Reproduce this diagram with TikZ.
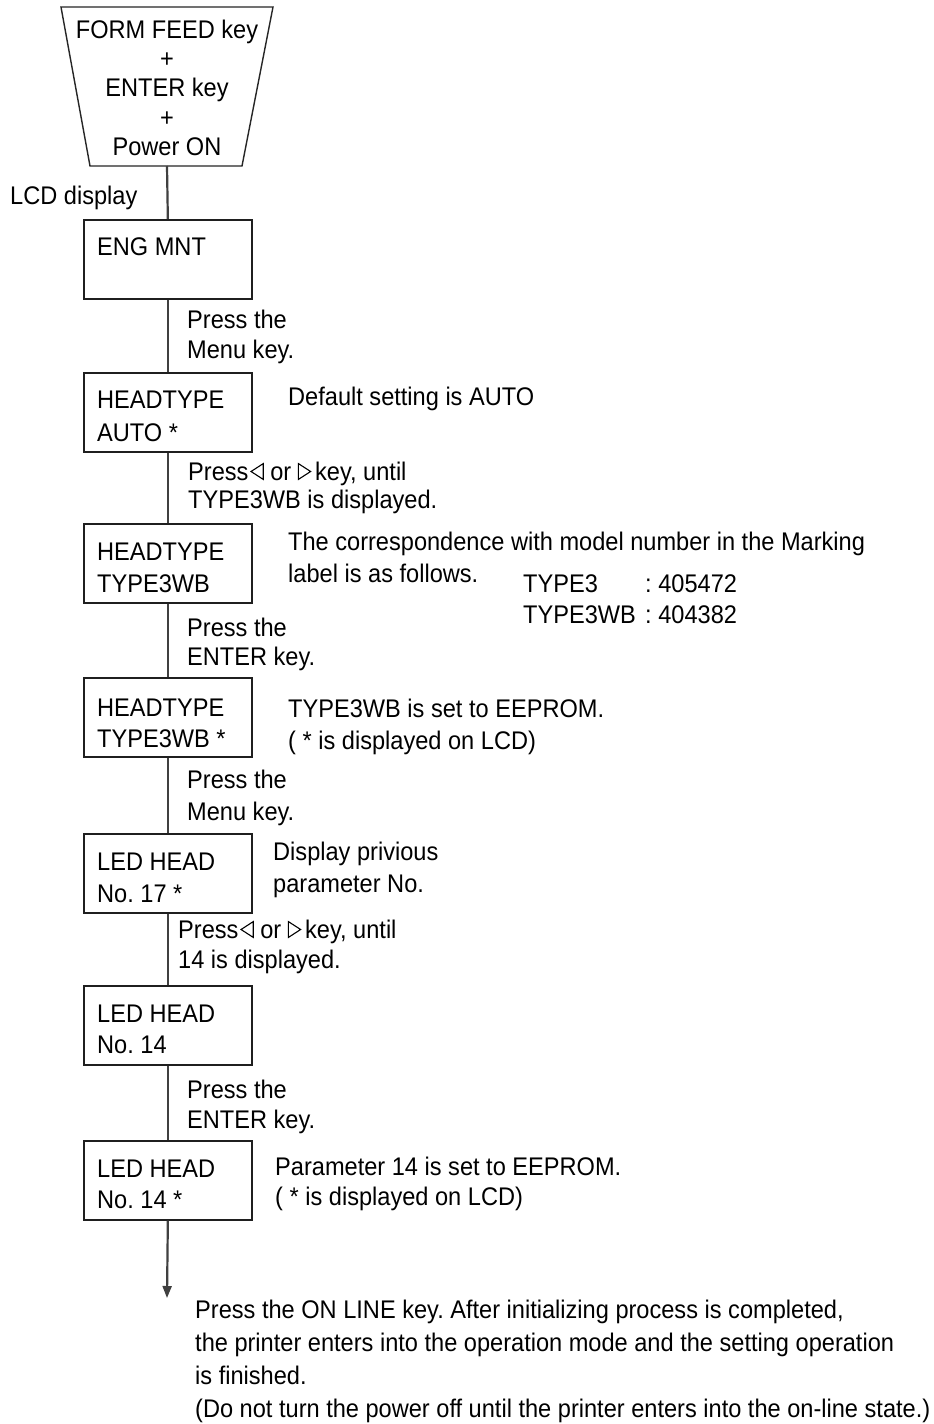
\documentclass[tikz,border=0pt]{standalone}
\usepackage{fontspec}
\setmainfont[FakeStretch=0.925]{Liberation Sans}
\usetikzlibrary{arrows.meta}
\frenchspacing
\newcommand\fsz[1]{\fontsize{25.5}{#1}\selectfont\frenchspacing}
\newcommand\trileft{\tikz[baseline=0pt,x=1pt,y=1pt]\draw[line width=1.1pt] (13,0.6)--(0.8,8.5)--(13,16.4)--cycle;}
\newcommand\triright{\tikz[baseline=0pt,x=1pt,y=1pt]\draw[line width=1.1pt] (0.6,0.6)--(12.8,8.5)--(0.6,16.4)--cycle;}
\begin{document}
\begin{tikzpicture}[x=1pt,y=-1pt,
  box/.style={draw=black!88,line width=1.7pt,minimum width=168pt,minimum height=79pt,anchor=north west,inner sep=0pt},
  txt/.style={anchor=base west,inner sep=0pt,align=left},
  conn/.style={draw=black!75,line width=2.2pt}]
\fill[white] (0,0) rectangle (934,1424);
\useasboundingbox (0,0) rectangle (934,1424);

% start trapezoid (anchor = baseline of last line)
\draw[line width=1.4pt,black!85] (61,7)--(273,7)--(242,166)--(90,166)--cycle;
\node[anchor=base,inner sep=0pt,align=center,font=\fsz{29.2}] (trap) at (167,155.3) {FORM FEED key\\+\\ENTER key\\+\\Power ON};
\coordinate (trapb) at (167,166);
\node[txt,font=\fsz{30}] (lcd) at (10,204) {LCD display};

% boxes
\node[box] (b1) at (83,219) {};
\node[box] (b2) at (83,372) {};
\node[box] (b3) at (83,523) {};
\node[box] (b4) at (83,677) {};
\node[box] (b5) at (83,833) {};
\node[box] (b6) at (83,985) {};
\node[box] (b7) at (83,1140) {};
\coordinate (end) at (167,1298);

% connectors
\draw[conn] (trapb) -- (b1.north);
\draw[conn] (b1.south) -- (b2.north);
\draw[conn] (b2.south) -- (b3.north);
\draw[conn] (b3.south) -- (b4.north);
\draw[conn] (b4.south) -- (b5.north);
\draw[conn] (b5.south) -- (b6.north);
\draw[conn] (b6.south) -- (b7.north);
\draw[conn,-{Triangle[length=12pt,width=9pt]}] (b7.south) -- (end);

% box texts (positions = baseline of last line)
\node[txt,font=\fsz{32}] (t1) at (97,255) {ENG MNT};
\node[txt,font=\fsz{33}] (t2) at (97,441) {HEADTYPE\\AUTO *};
\node[txt,font=\fsz{32}] (t3) at (97,592) {HEADTYPE\\TYPE3WB};
\node[txt,font=\fsz{31}] (t4) at (97,747) {HEADTYPE\\TYPE3WB *};
\node[txt,font=\fsz{32}] (t5) at (97,902) {LED HEAD\\No. 17 *};
\node[txt,font=\fsz{31}] (t6) at (97,1053) {LED HEAD\\No. 14};
\node[txt,font=\fsz{31}] (t7) at (97,1208) {LED HEAD\\No. 14 *};

% step labels
\node[txt,font=\fsz{30}] (s1) at (187,358) {Press the\\Menu key.};
\node[txt,font=\fsz{28}] (s2) at (188,508) {Press\kern2pt\trileft\ or \triright\kern4pt key, until\\TYPE3WB is displayed.};
\node[txt,font=\fsz{29}] (s3) at (187,665) {Press the\\ENTER key.};
\node[txt,font=\fsz{32}] (s4) at (187,820) {Press the\\Menu key.};
\node[txt,font=\fsz{30}] (s5) at (178,968) {Press\kern2pt\trileft\ or \triright\kern4pt key, until\\14 is displayed.};
\node[txt,font=\fsz{30}] (s6) at (187,1128) {Press the\\ENTER key.};

% side notes
\node[txt,font=\fsz{32}] (n2) at (288,405) {Default setting is AUTO};
\node[txt,font=\fsz{32}] (n3) at (288,582) {The correspondence with model number in the Marking\\label is as follows.};
\node[txt,font=\fsz{31}] (n3a) at (523,623) {TYPE3\\TYPE3WB};
\node[txt,font=\fsz{31}] (n3b) at (645,623) {: 405472\\: 404382};
\node[txt,font=\fsz{32}] (n4) at (288,749) {TYPE3WB is set to EEPROM.\\( * is displayed on LCD)};
\node[txt,font=\fsz{32}] (n5) at (273,892) {Display privious\\parameter No.};
\node[txt,font=\fsz{30}] (n7) at (275,1205) {Parameter 14 is set to EEPROM.\\( * is displayed on LCD)};

% final note
\node[txt,font=\fsz{33}] (fin) at (195,1417) {Press the ON LINE key. After initializing process is completed,\\the printer enters into the operation mode and the setting operation\\is finished.\\(Do not turn the power off until the printer enters into the on-line state.)};
\end{tikzpicture}
\end{document}
